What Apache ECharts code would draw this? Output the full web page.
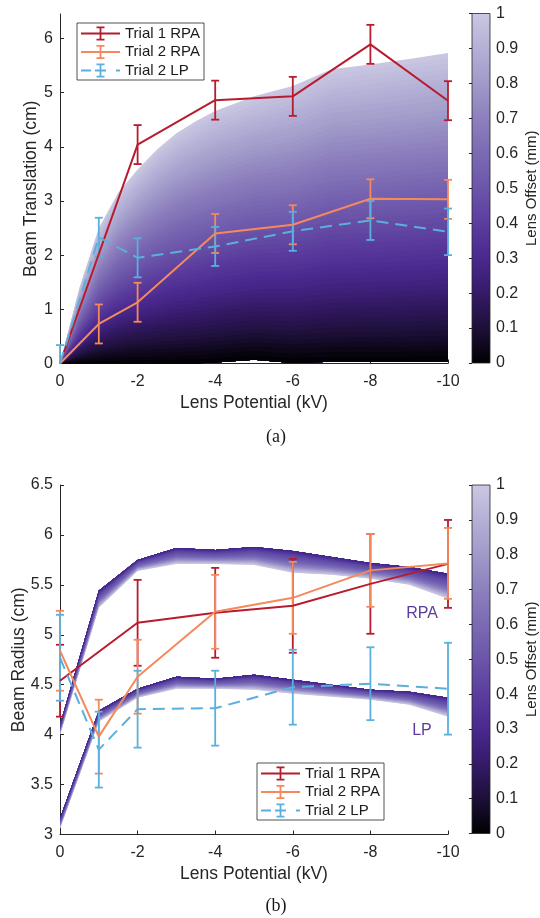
<!DOCTYPE html>
<html><head><meta charset="utf-8">
<script src="https://cdn.jsdelivr.net/npm/echarts@6/dist/echarts.min.js"></script>
<style>html,body{margin:0;padding:0;background:#fff}#c{width:540px;height:918px}</style>
</head><body><div id="c"></div>
<script>
// ---------------- data ----------------
const translationTicks = [0, 1, 2, 3, 4, 5, 6];
const radiusTicks = [3, 3.5, 4, 4.5, 5, 5.5, 6, 6.5];

// panel (a): beam translation (cm)
const potT1A = [0, -2, -4, -6, -8, -10];
const transT1RPA = [0, 4.04, 4.86, 4.93, 5.89, 4.85];
const transT1RPAErr = [0, 0.36, 0.36, 0.36, 0.36, 0.36];
const potT2A = [0, -1, -2, -4, -6, -8, -10];
const transT2RPA = [0, 0.73, 1.13, 2.40, 2.56, 3.04, 3.03];
const transT2RPAErr = [0, 0.36, 0.36, 0.36, 0.36, 0.36, 0.36];
const transT2LP = [0, 2.33, 1.95, 2.16, 2.44, 2.64, 2.43];
const transT2LPErr = [0.34, 0.36, 0.36, 0.36, 0.36, 0.36, 0.43];
// simulated envelope (lens offset 0 -> 1 mm)
const simPotA = [0, -0.5, -1, -1.5, -2, -2.5, -3, -3.5, -4, -5, -6, -7, -8, -9, -10];
const simTopA = [0, 1.4, 2.5, 3.15, 3.58, 3.95, 4.25, 4.47, 4.66, 4.93, 5.12, 5.43, 5.52, 5.62, 5.73];
const simBaseA = [0, 0, 0, 0, 0, 0, 0, 0, 0.02, 0.07, 0.01, 0.03, 0.03, 0.03, 0.04];

// panel (b): beam radius (cm)
const potT1B = [0, -2, -4, -6, -8, -10];
const radT1RPA = [4.54, 5.12, 5.22, 5.29, 5.51, 5.71];
const radT1RPAErr = [0.36, 0.43, 0.45, 0.47, 0.50, 0.44];
const potT2B = [0, -1, -2, -4, -6, -8, -10];
const radT2RPA = [4.84, 3.98, 4.58, 5.23, 5.37, 5.645, 5.715];
const radT2RPAErr = [0.40, 0.37, 0.37, 0.37, 0.36, 0.365, 0.355];
const radT2LP = [4.77, 3.85, 4.255, 4.265, 4.475, 4.51, 4.46];
const radT2LPErr = [0.43, 0.38, 0.385, 0.375, 0.375, 0.365, 0.46];
// simulated bands (offset 0 edge / offset 1 edge)
const simPotB = [0, -1, -2, -3, -4, -5, -6, -7, -8, -9, -10];
const rpaSimOff0 = [4.10, 5.44, 5.75, 5.87, 5.85, 5.88, 5.84, 5.78, 5.72, 5.68, 5.61];
const rpaSimOff1 = [4.00, 5.27, 5.64, 5.71, 5.71, 5.70, 5.62, 5.60, 5.56, 5.50, 5.36];
const lpSimOff0 = [3.16, 4.24, 4.46, 4.58, 4.56, 4.60, 4.55, 4.50, 4.45, 4.43, 4.37];
const lpSimOff1 = [3.06, 4.13, 4.37, 4.46, 4.46, 4.45, 4.41, 4.38, 4.35, 4.30, 4.18];

// ---------------- style ----------------
const FONT = '"Liberation Sans", Arial, Helvetica, sans-serif';
const AX = '#262626';
const RED = '#B71C2E', ORANGE = '#F5895B', BLUE = '#5AB0DC';
const cmap = ['#000000', '#1d0f38', '#351a68', '#4a288e', '#5b3d9e', '#6b55a9', '#7b6ab3', '#8d80be', '#a09ac9', '#b4b0d6', '#cac8e2'];
const bandMap = ['#3f2487', '#4f3398', '#5b43a3', '#6450a9', '#6b58ae', '#7464b4', '#8073bb', '#9085c3', '#a69fcf', '#bcb8da', '#cfcde6'];

function xy(xs, ys) { return xs.map((x, i) => [x, ys[i]]); }
function xye(xs, ys, es) { return xs.map((x, i) => [x, ys[i], es[i]]); }

function makeErrRender(yMin) {
  return function (params, api) {
    const x = api.value(0), c = api.value(1), e = api.value(2);
    if (!e) return { type: 'group', children: [] };
    let lo = c - e; const hi = c + e;
    const loVis = lo >= yMin; if (!loVis) lo = yMin;
    const pl = api.coord([x, lo]), ph = api.coord([x, hi]);
    const st = { stroke: api.visual('color'), lineWidth: 1.8 };
    const w = 4;
    const ch = [
      { type: 'line', shape: { x1: pl[0], y1: pl[1], x2: ph[0], y2: ph[1] }, style: st },
      { type: 'line', shape: { x1: ph[0] - w, y1: ph[1], x2: ph[0] + w, y2: ph[1] }, style: st }
    ];
    if (loVis) ch.push({ type: 'line', shape: { x1: pl[0] - w, y1: pl[1], x2: pl[0] + w, y2: pl[1] }, style: st });
    return { type: 'group', children: ch };
  };
}

// shaded fan: strips between edge0 (fraction 0) and edge1 (fraction 1)
function makeFanRender(xs, edge0, edge1, colors) {
  return function (params, api) {
    const N = 60, ch = [];
    for (let k = N; k >= 1; k--) {
      const f = k / N, pts = [];
      for (let i = 0; i < xs.length; i++) pts.push(api.coord([xs[i], edge0[i] + (edge1[i] - edge0[i]) * f]));
      for (let i = xs.length - 1; i >= 0; i--) pts.push(api.coord([xs[i], edge0[i]]));
      const col = echarts.color.lerp((k - 0.5) / N, colors);
      ch.push({ type: 'polygon', shape: { points: pts }, style: { fill: col } });
    }
    return { type: 'group', children: ch };
  };
}

function colorbarRender(params, api) {
  const p0 = api.coord([0, 0]), p1 = api.coord([1, 1]);
  return {
    type: 'rect',
    shape: { x: p0[0], y: p1[1], width: p1[0] - p0[0], height: p0[1] - p1[1] },
    style: {
      fill: new echarts.graphic.LinearGradient(0, 1, 0, 0, cmap.map((c, i) => ({ offset: i / (cmap.length - 1), color: c }))),
      stroke: AX, lineWidth: 0.8
    }
  };
}

const axisLineCommon = { show: true, onZero: false, lineStyle: { color: AX, width: 1 } };
const tickCommon = { show: true, inside: true, length: 4, lineStyle: { color: AX, width: 1 } };
const labelCommon = { fontSize: 16, color: AX, fontFamily: FONT };
const nameStyle = { fontSize: 17.5, color: AX, fontFamily: FONT };

function potAxis(gi) {
  return {
    gridIndex: gi, type: 'value', min: -10, max: 0, interval: 2, inverse: true,
    name: 'Lens Potential (kV)', nameLocation: 'middle', nameGap: 31, nameMoveOverlap: false, nameTextStyle: nameStyle,
    axisLine: axisLineCommon, axisTick: tickCommon, axisLabel: Object.assign({ margin: 10 }, labelCommon),
    splitLine: { show: false }
  };
}
function cbXAxis(gi) { return { gridIndex: gi, type: 'value', min: 0, max: 1, show: false }; }
function cbYAxis(gi) {
  return {
    gridIndex: gi, type: 'value', position: 'right', min: 0, max: 1, interval: 0.1,
    name: 'Lens Offset (mm)', nameLocation: 'middle', nameRotate: 90, nameGap: 34, nameMoveOverlap: false,
    nameTextStyle: { fontSize: 15, color: AX, fontFamily: FONT },
    axisLine: { show: false },
    axisTick: { show: true, inside: true, length: 3, lineStyle: { color: AX } },
    axisLabel: Object.assign({ margin: 6, formatter: v => (v === 0 ? '0' : v === 1 ? '1' : v.toFixed(1)) }, labelCommon),
    splitLine: { show: false }
  };
}

const iconSolid = 'path://M0,6.1h39v1.8h-39z M18.6,0h1.8v14h-1.8z M15.5,0h8v1.8h-8z M15.5,12.2h8v1.8h-8z';
const iconDash = 'path://M0,6.1h10v1.8h-10z M14,6.1h11v1.8h-11z M35,6.1h4v1.8h-4z M18.6,0h1.8v14h-1.8z M15.5,0h8v1.8h-8z M15.5,12.2h8v1.8h-8z';
function legendCfg(left, top) {
  return {
    left: left, top: top, orient: 'vertical', itemWidth: 39, itemHeight: 14, itemGap: 3.5,
    padding: [3, 4, 2, 4], backgroundColor: '#fff', borderColor: AX, borderWidth: 0.8,
    selectedMode: false, itemStyle: { borderWidth: 0 },
    textStyle: { fontSize: 15, color: '#1a1a1a', fontFamily: FONT },
    data: [
      { name: 'Trial 1 RPA', icon: iconSolid, itemStyle: { color: RED } },
      { name: 'Trial 2 RPA', icon: iconSolid, itemStyle: { color: ORANGE } },
      { name: 'Trial 2 LP', icon: iconDash, itemStyle: { color: BLUE } }
    ]
  };
}

function lineSeries(name, xi, yi, data, color, dashed) {
  return {
    name: name, type: 'line', xAxisIndex: xi, yAxisIndex: yi, data: data, symbol: 'none', z: 4,
    itemStyle: { color: color },
    lineStyle: { color: color, width: 2, type: dashed ? [12, 7] : 'solid' }
  };
}
function errSeries(xi, yi, data, color, yMin) {
  return {
    type: 'custom', xAxisIndex: xi, yAxisIndex: yi, data: data, z: 4, silent: true,
    itemStyle: { color: color }, renderItem: makeErrRender(yMin)
  };
}

const chart = echarts.init(document.getElementById('c'), null, { renderer: 'canvas' });
chart.setOption({
  animation: false,
  backgroundColor: '#fff',
  grid: [
    { left: 60, top: 14, width: 388, height: 349.5 },
    { left: 60, top: 485, width: 388, height: 349.5 },
    { left: 472, top: 13.5, width: 21, height: 349.5 },
    { left: 472, top: 485, width: 21, height: 348.5 }
  ],
  xAxis: [potAxis(0), potAxis(1), cbXAxis(2), cbXAxis(3)],
  yAxis: [
    {
      gridIndex: 0, type: 'value', min: 0, max: 6.45,
      name: 'Beam Translation (cm)', nameLocation: 'middle', nameRotate: 90, nameGap: 20, nameMoveOverlap: false, nameTextStyle: nameStyle,
      axisLine: axisLineCommon,
      axisTick: Object.assign({ customValues: translationTicks }, tickCommon),
      axisLabel: Object.assign({ margin: 7, customValues: translationTicks }, labelCommon),
      splitLine: { show: false }
    },
    {
      gridIndex: 1, type: 'value', min: 3, max: 6.5,
      name: 'Beam Radius (cm)', nameLocation: 'middle', nameRotate: 90, nameGap: 32, nameMoveOverlap: false, nameTextStyle: nameStyle,
      axisLine: axisLineCommon,
      axisTick: Object.assign({ customValues: radiusTicks }, tickCommon),
      axisLabel: Object.assign({ margin: 7, customValues: radiusTicks }, labelCommon),
      splitLine: { show: false }
    },
    cbYAxis(2), cbYAxis(3)
  ],
  legend: [legendCfg(77, 23), legendCfg(257, 763)],
  series: [
    // panel a simulated envelope
    { type: 'custom', xAxisIndex: 0, yAxisIndex: 0, data: [[0, 0]], z: 1, silent: true,
      renderItem: makeFanRender(simPotA, simBaseA, simTopA, cmap) },
    // panel b simulated bands
    { type: 'custom', xAxisIndex: 1, yAxisIndex: 1, data: [[0, 4]], z: 1, silent: true,
      renderItem: makeFanRender(simPotB, rpaSimOff0, rpaSimOff1, bandMap) },
    { type: 'custom', xAxisIndex: 1, yAxisIndex: 1, data: [[0, 4]], z: 1, silent: true,
      renderItem: makeFanRender(simPotB, lpSimOff0, lpSimOff1, bandMap) },
    // colorbars
    { type: 'custom', xAxisIndex: 2, yAxisIndex: 2, data: [[0, 0]], silent: true, renderItem: colorbarRender },
    { type: 'custom', xAxisIndex: 3, yAxisIndex: 3, data: [[0, 0]], silent: true, renderItem: colorbarRender },
    // panel a measurements
    lineSeries('Trial 1 RPA', 0, 0, xy(potT1A, transT1RPA), RED, false),
    errSeries(0, 0, xye(potT1A, transT1RPA, transT1RPAErr), RED, 0),
    lineSeries('Trial 2 RPA', 0, 0, xy(potT2A, transT2RPA), ORANGE, false),
    errSeries(0, 0, xye(potT2A, transT2RPA, transT2RPAErr), ORANGE, 0),
    lineSeries('Trial 2 LP', 0, 0, xy(potT2A, transT2LP), BLUE, true),
    errSeries(0, 0, xye(potT2A, transT2LP, transT2LPErr), BLUE, 0),
    // panel b measurements
    lineSeries('Trial 1 RPA', 1, 1, xy(potT1B, radT1RPA), RED, false),
    errSeries(1, 1, xye(potT1B, radT1RPA, radT1RPAErr), RED, 3),
    lineSeries('Trial 2 RPA', 1, 1, xy(potT2B, radT2RPA), ORANGE, false),
    errSeries(1, 1, xye(potT2B, radT2RPA, radT2RPAErr), ORANGE, 3),
    lineSeries('Trial 2 LP', 1, 1, xy(potT2B, radT2LP), BLUE, true),
    errSeries(1, 1, xye(potT2B, radT2LP, radT2LPErr), BLUE, 3)
  ],
  graphic: [
    { type: 'text', x: 276, y: 437, style: { text: '(a)', fontSize: 18, fontFamily: '"Liberation Serif", "DejaVu Serif", serif', fill: '#1a1a1a', align: 'center', verticalAlign: 'middle' } },
    { type: 'text', x: 276, y: 906, style: { text: '(b)', fontSize: 18, fontFamily: '"Liberation Serif", "DejaVu Serif", serif', fill: '#1a1a1a', align: 'center', verticalAlign: 'middle' } },
    { type: 'text', x: 422, y: 614, style: { text: 'RPA', fontSize: 16, fontFamily: FONT, fill: '#5B3C9E', align: 'center', verticalAlign: 'middle' } },
    { type: 'text', x: 422, y: 731, style: { text: 'LP', fontSize: 16, fontFamily: FONT, fill: '#5B3C9E', align: 'center', verticalAlign: 'middle' } }
  ]
});
</script>
</body></html>
